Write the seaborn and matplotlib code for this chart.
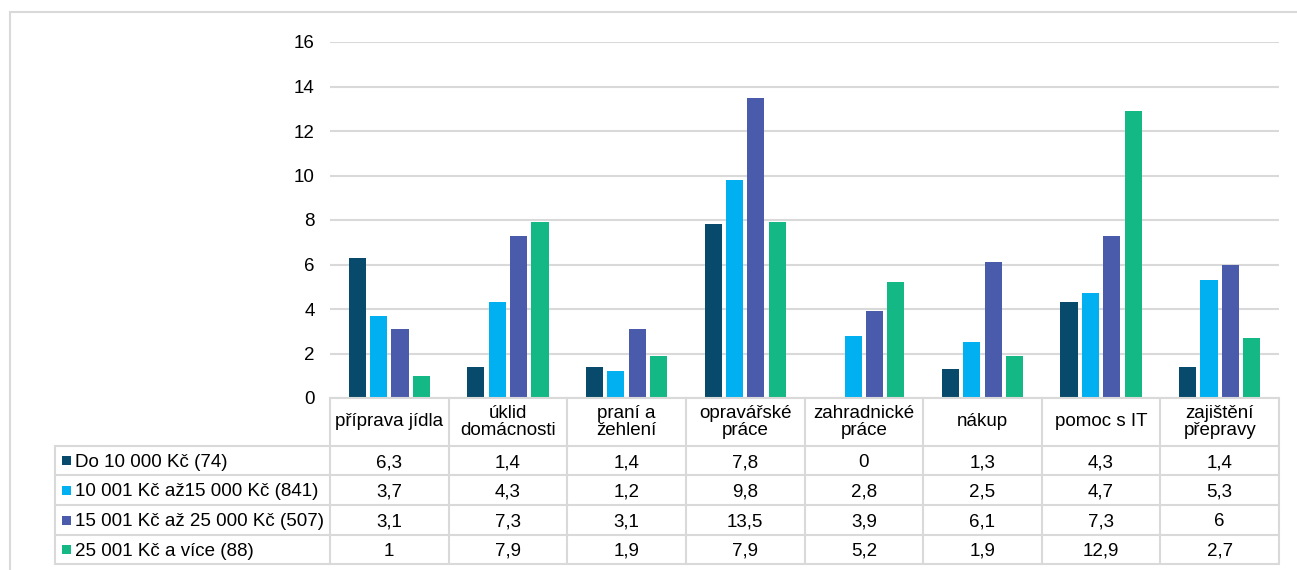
import matplotlib
matplotlib.use("Agg")
import matplotlib.pyplot as plt
from matplotlib.lines import Line2D
from matplotlib.patches import Rectangle
from matplotlib.transforms import blended_transform_factory
import seaborn as sns
import pandas as pd

categories = ["příprava jídla", "úklid\ndomácnosti", "praní a\nžehlení", "opravářské\npráce",
              "zahradnické\npráce", "nákup", "pomoc s IT", "zajištění\npřepravy"]
series = ["Do 10 000 Kč (74)", "10 001 Kč až15 000 Kč (841)",
          "15 001 Kč až 25 000 Kč (507)", "25 001 Kč a více (88)"]
do_10000 = [6.3, 1.4, 1.4, 7.8, 0, 1.3, 4.3, 1.4]
od_10001 = [3.7, 4.3, 1.2, 9.8, 2.8, 2.5, 4.7, 5.3]
od_15001 = [3.1, 7.3, 3.1, 13.5, 3.9, 6.1, 7.3, 6]
od_25001 = [1, 7.9, 1.9, 7.9, 5.2, 1.9, 12.9, 2.7]
values = [do_10000, od_10001, od_15001, od_25001]
colors = ["#074A6B", "#00B0F0", "#4A5BAB", "#14B884"]
yticks = [0, 2, 4, 6, 8, 10, 12, 14, 16]

rows = []
for s, vals in zip(series, values):
    for c, v in zip(categories, vals):
        rows.append({"kategorie": c, "skupina": s, "hodnota": v})
df = pd.DataFrame(rows)

sns.set_theme(style="white")
plt.rcParams["font.family"] = ["Liberation Sans", "DejaVu Sans"]
FS = 13.5
GRID = "#D9D9D9"

W, H = 1297, 570
fig = plt.figure(figsize=(W / 100, H / 100), dpi=100)
fig.patch.set_facecolor("white")

def fy(py):
    return 1 - py / H

def fx(px):
    return px / W

ax = fig.add_axes([fx(330), fy(398), fx(1279) - fx(330), fy(42) - fy(398)])
sns.barplot(data=df, x="kategorie", y="hodnota", hue="skupina", order=categories,
            hue_order=series, palette=colors, width=0.72, gap=0.2, saturation=1,
            legend=False, ax=ax, linewidth=0)
ax.set_xlim(-0.5, len(categories) - 0.5)
ax.set_ylim(0, 16)
ax.set_yticks(yticks)
ax.set_yticklabels([str(t) for t in yticks], fontsize=FS, color="#000000")
ax.tick_params(axis="y", length=0, pad=11)
ax.set_xticks([])
ax.set_xlabel("")
ax.set_ylabel("")
for sp in ax.spines.values():
    sp.set_visible(False)
ax.yaxis.grid(True, color=GRID, linewidth=1.5)
ax.set_axisbelow(True)

# data table beneath the plot
tr = blended_transform_factory(ax.transData, fig.transFigure)
n = len(categories)
row_lines = [446, 475, 505, 535, 564]
header_top = 398
lw = 1.5

def fig_line(x0, x1, y0, y1, transform):
    fig.add_artist(Line2D([x0, x1], [y0, y1], transform=transform, color=GRID,
                          linewidth=lw, clip_on=False))

# vertical lines of the category columns
for i in range(n + 1):
    fig_line(i - 0.5, i - 0.5, fy(header_top), fy(row_lines[-1]), tr)
fig_line(-0.5, n - 0.5, fy(header_top), fy(header_top), tr)
# row separators across the label column and the category columns
for py in row_lines:
    fig_line(fx(55), fx(330), fy(py), fy(py), fig.transFigure)
    fig_line(-0.5, n - 0.5, fy(py), fy(py), tr)
fig_line(fx(55), fx(55), fy(row_lines[0]), fy(row_lines[-1]), fig.transFigure)

# category headers
for i, c in enumerate(categories):
    fig.text(i, fy((header_top + row_lines[0]) / 2), c, transform=tr, ha="center",
             va="center", fontsize=FS, color="#000000", linespacing=1.05)

def fmt(v):
    if float(v).is_integer():
        return str(int(v))
    return f"{v}".replace(".", ",")

for r, (s, vals, col) in enumerate(zip(series, values, colors)):
    ymid = (row_lines[r] + row_lines[r + 1]) / 2
    fig.add_artist(Rectangle((fx(62), fy(ymid + 4.5)), fx(9), 9 / H,
                             transform=fig.transFigure, color=col, linewidth=0))
    fig.text(fx(75), fy(ymid), s, ha="left", va="center_baseline", fontsize=FS,
             color="#000000")
    for i, v in enumerate(vals):
        fig.text(i, fy(ymid), fmt(v), transform=tr, ha="center",
                 va="center_baseline", fontsize=FS, color="#000000")

# outer chart frame
fig_line(fx(10), fx(W), fy(12), fy(12), fig.transFigure)
fig_line(fx(10), fx(10), fy(12), fy(H), fig.transFigure)

fig.savefig("out.png", dpi=100, facecolor="white")
